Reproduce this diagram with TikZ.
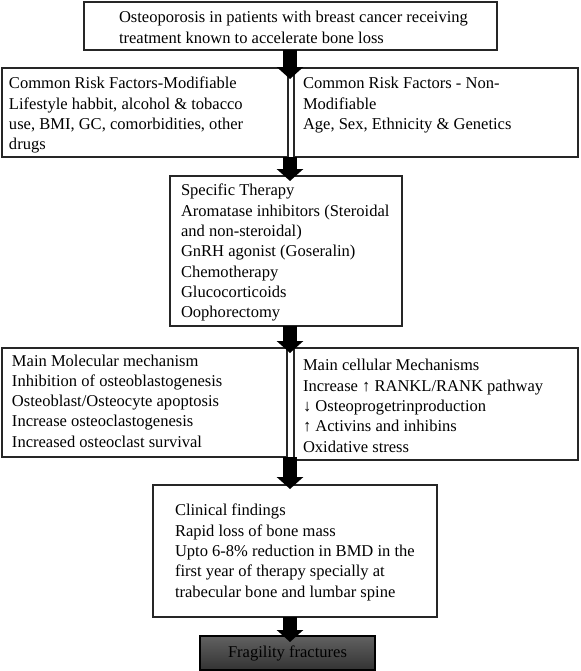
\documentclass[tikz,border=0pt]{standalone}
\usepackage{fontspec}
\setmainfont{Liberation Serif}
\usetikzlibrary{arrows.meta}
\newcommand{\bxt}[5]{\parbox[c][#2][t]{#1}{\vspace*{#4}\raggedright\leftskip=#3\relax\strut #5}}
\begin{document}
\begin{tikzpicture}[x=0.75pt,y=-0.75pt,
  box/.style={draw=black!85, line width=0.9pt, anchor=north west, inner sep=0pt, outer sep=0pt,
    font=\fontsize{12.4}{15.2}\selectfont},
  darkbox/.style={box, top color=black!62, bottom color=black!80, draw=black,
    minimum width=131.25pt, minimum height=25.5pt, align=center},
  blockarrow/.style={draw=black, line width=10.5pt, -{Triangle[width=19.5pt,length=9pt]}}]
\useasboundingbox (0,0) rectangle (581,671);

\node[box] (b1) at (84,2) {\bxt{309.75pt}{36pt}{26.25pt}{5.1pt}{Osteoporosis in patients with breast cancer receiving\\treatment known to accelerate bone loss}};

\node[box] (b2l) at (2,68) {\bxt{214.5pt}{66.75pt}{5.25pt}{5.1pt}{Common Risk Factors-Modifiable\\Lifestyle habbit, alcohol \& tobacco\\use, BMI, GC, comorbidities, other\\drugs}};
\node[box] (b2r) at (294,68) {\bxt{213pt}{66.75pt}{6.75pt}{5.1pt}{Common Risk Factors - Non-\\Modifiable\\Age, Sex, Ethnicity \& Genetics}};

\node[box] (b3) at (170,176) {\bxt{174pt}{112.5pt}{8.25pt}{4.35pt}{Specific Therapy\\Aromatase inhibitors (Steroidal\\and non-steroidal)\\GnRH agonist (Goseralin)\\Chemotherapy\\Glucocorticoids\\Oophorectomy}};

\node[box] (b4l) at (2,348) {\bxt{213.75pt}{81.75pt}{7.5pt}{2.86pt}{Main Molecular mechanism\\Inhibition of osteoblastogenesis\\Osteoblast/Osteocyte apoptosis\\Increase osteoclastogenesis\\Increased osteoclast survival}};
\node[box] (b4r) at (294,348) {\bxt{213pt}{84pt}{6.75pt}{6.6pt}{Main cellular Mechanisms\\Increase ↑ RANKL/RANK pathway\\↓ Osteoprogetrinproduction\\↑ Activins and inhibins\\Oxidative stress}};

\node[box] (b5) at (153,485) {\bxt{213pt}{99pt}{16.5pt}{12.6pt}{Clinical findings\\Rapid loss of bone mass\\Upto 6-8\% reduction in BMD in the\\first year of therapy specially at\\trabecular bone and lumbar spine}};

\node[darkbox] (b6) at (200,636) {Fragility fractures};

\coordinate (axis) at (290,0);
\coordinate (t1) at (290,79);
\coordinate (t2) at (290,181);
\coordinate (t3) at (290,353);
\coordinate (t4) at (290,489);
\coordinate (t5) at (290,642);

\draw[blockarrow] (b1.south -| axis) -- (t1);
\draw[blockarrow] (b2l.south -| axis) -- (t2);
\draw[blockarrow] (b3.south -| axis) -- (t3);
\draw[blockarrow] (b4l.south -| axis) -- (t4);
\draw[blockarrow] (b5.south -| axis) -- (t5);
\end{tikzpicture}
\end{document}
